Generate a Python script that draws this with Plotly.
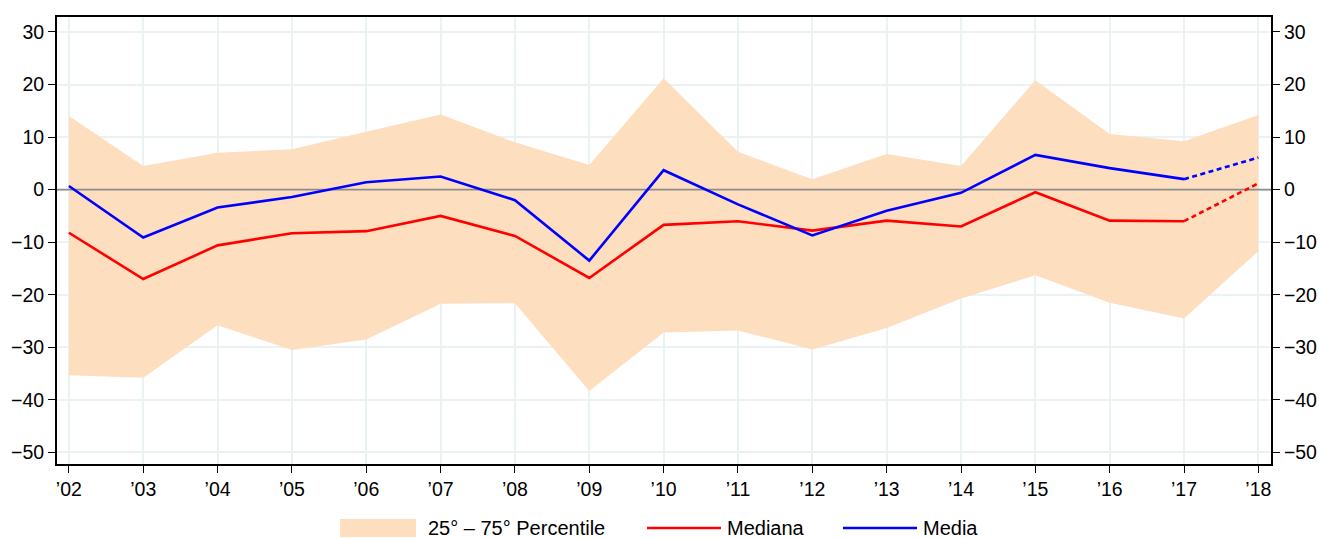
import plotly.graph_objects as go

years = ["\u201902", "\u201903", "\u201904", "\u201905", "\u201906", "\u201907", "\u201908", "\u201909",
         "\u201910", "\u201911", "\u201912", "\u201913", "\u201914", "\u201915", "\u201916", "\u201917", "\u201918"]
x_vals = list(range(2002, 2019))
p75 = [14.0, 4.5, 7.0, 7.7, 11.0, 14.3, 9.0, 4.7, 21.2, 7.2, 2.0, 6.8, 4.5, 20.8, 10.6, 9.2, 14.2]
p25 = [-35.3, -35.8, -25.8, -30.5, -28.5, -21.7, -21.6, -38.3, -27.2, -26.8, -30.4, -26.3, -20.7, -16.3, -21.5, -24.5, -11.7]
mediana = [-8.2, -17.0, -10.6, -8.3, -7.9, -5.0, -8.8, -16.8, -6.7, -6.0, -7.8, -5.9, -7.0, -0.5, -5.9, -6.0, 1.2]
media = [0.7, -9.1, -3.4, -1.4, 1.4, 2.5, -2.0, -13.5, 3.7, -2.8, -8.7, -4.0, -0.6, 6.6, 4.1, 2.0, 6.1]
legend_labels = ["25\u00b0 \u2013 75\u00b0 Percentile", "Mediana", "Media"]

FILL = "#FDDEBF"
RED = "#FF0000"
BLUE = "#0000FF"
FONT = "Liberation Sans, Arial, sans-serif"
DASH = "5px,3.5px"

W, H = 1319, 538
ML, MR, MT, MB = 57, 48, 17, 74
PW, PH = W - ML - MR, H - MT - MB


def px(xp):
    return (xp - ML) / PW


def py(yp):
    return (H - MB - yp) / PH


xr = [2001.84, 2018.17]
yr = [-52.2, 32.85]

fig = go.Figure()
fig.add_trace(go.Scatter(x=x_vals, y=p25, mode="lines", line=dict(width=0, color=FILL),
                         showlegend=False, hoverinfo="skip"))
fig.add_trace(go.Scatter(x=x_vals, y=p75, mode="lines", line=dict(width=0, color=FILL),
                         fill="tonexty", fillcolor=FILL, showlegend=False))
# zero reference line above the band, below the series
fig.add_trace(go.Scatter(x=xr, y=[0, 0], mode="lines", line=dict(color="#8C8C8C", width=1.6),
                         showlegend=False, hoverinfo="skip"))
fig.add_trace(go.Scatter(x=x_vals[:-1], y=mediana[:-1], mode="lines", line=dict(color=RED, width=2.6),
                         showlegend=False))
fig.add_trace(go.Scatter(x=x_vals[-2:], y=mediana[-2:], mode="lines",
                         line=dict(color=RED, width=2.6, dash=DASH), showlegend=False))
fig.add_trace(go.Scatter(x=x_vals[:-1], y=media[:-1], mode="lines", line=dict(color=BLUE, width=2.6),
                         showlegend=False))
fig.add_trace(go.Scatter(x=x_vals[-2:], y=media[-2:], mode="lines",
                         line=dict(color=BLUE, width=2.6, dash=DASH), showlegend=False))
# invisible trace to display the right axis
fig.add_trace(go.Scatter(x=x_vals, y=media, yaxis="y2", mode="lines", line=dict(width=0),
                         opacity=0, showlegend=False, hoverinfo="skip"))

tickvals = [-50, -40, -30, -20, -10, 0, 10, 20, 30]
ticktext = ["\u221250", "\u221240", "\u221230", "\u221220", "\u221210", "0", "10", "20", "30"]

# custom legend
shapes = [
    dict(type="rect", xref="paper", yref="paper", x0=px(340), x1=px(416), y0=py(537), y1=py(519),
         fillcolor=FILL, line=dict(width=0)),
    dict(type="line", xref="paper", yref="paper", x0=px(647), x1=px(721), y0=py(528), y1=py(528),
         line=dict(color=RED, width=2.6)),
    dict(type="line", xref="paper", yref="paper", x0=px(843), x1=px(917), y0=py(528), y1=py(528),
         line=dict(color=BLUE, width=2.6)),
]
annotations = [
    dict(text=legend_labels[0], xref="paper", yref="paper", x=px(426), y=py(528), xanchor="left",
         yanchor="middle", showarrow=False, font=dict(size=20)),
    dict(text=legend_labels[1], xref="paper", yref="paper", x=px(725), y=py(528), xanchor="left",
         yanchor="middle", showarrow=False, font=dict(size=20)),
    dict(text=legend_labels[2], xref="paper", yref="paper", x=px(921), y=py(528), xanchor="left",
         yanchor="middle", showarrow=False, font=dict(size=20)),
]

fig.update_layout(
    width=W, height=H, autosize=False,
    margin=dict(l=ML, r=MR, t=MT, b=MB, pad=0, autoexpand=False),
    plot_bgcolor="white", paper_bgcolor="white",
    font=dict(family=FONT, size=19.5, color="#000000"),
    showlegend=False,
    shapes=shapes,
    annotations=annotations,
    xaxis=dict(range=xr, tickvals=x_vals, ticktext=years, automargin=False,
               showgrid=True, gridcolor="#EAF2F3", gridwidth=1.5,
               showline=True, linecolor="black", linewidth=2, mirror=True,
               ticks="outside", ticklen=7, tickcolor="black", tickwidth=1.2, zeroline=False),
    yaxis=dict(range=yr, tickvals=tickvals, ticktext=ticktext, automargin=False,
               showgrid=True, gridcolor="#EAF2F3", gridwidth=1.5,
               showline=True, linecolor="black", linewidth=2,
               ticks="outside", ticklen=7, tickcolor="black", tickwidth=1.2, zeroline=False),
    yaxis2=dict(range=yr, tickvals=tickvals, ticktext=ticktext, overlaying="y", side="right",
                automargin=False,
                showgrid=False, showline=True, linecolor="black", linewidth=2,
                ticks="outside", ticklen=7, tickcolor="black", tickwidth=1.2, zeroline=False),
)

fig.write_html("out.html", config={"displayModeBar": False},
               post_script="document.body.style.margin='0px';document.body.style.overflow='hidden';")
